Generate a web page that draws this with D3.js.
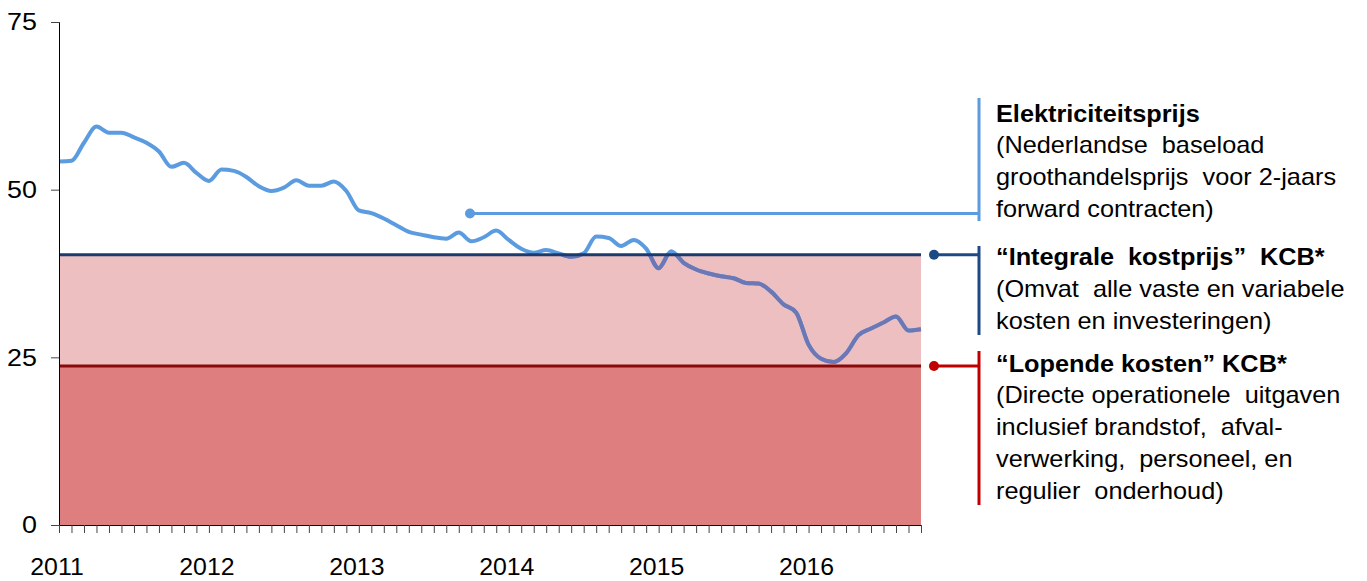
<!DOCTYPE html>
<html>
<head>
<meta charset="utf-8">
<script src="https://cdn.jsdelivr.net/npm/d3@7"></script>
<style>
  body { margin: 0; background: #fff; }
  svg { font-family: "Liberation Sans", Arial, sans-serif; }
</style>
</head>
<body>
<svg id="chart"></svg>
<script>
// monthly values, Jan 2011 .. Oct 2016 (EUR/MWh)
const startMonth = new Date(2011, 0, 1);
const endMonth = new Date(2016, 9, 1);
const price = [
  54.2, 54.3, 57.0, 59.4, 58.5, 58.5, 57.8, 57.0, 55.7, 53.4, 54.0, 52.5,
  51.3, 53.0, 52.8, 51.9, 50.5, 49.8, 50.3, 51.4, 50.6, 50.6, 51.2, 49.8,
  46.9, 46.5, 45.7, 44.7, 43.7, 43.3, 42.9, 42.7, 43.6, 42.3, 42.9, 43.9,
  42.5, 41.2, 40.6, 41.0, 40.5, 40.0, 40.5, 43.0, 42.8, 41.6, 42.5, 41.2,
  38.3, 40.8, 39.1, 38.1, 37.5, 37.1, 36.8, 36.1, 36.0, 34.8, 32.9, 31.7,
  26.9, 24.8, 24.3, 25.6, 28.3, 29.3, 30.2, 31.1, 29.0, 29.2
];
const integraleKostprijs = 40.3;
const lopendeKosten = 23.7;
const yTicks = [0, 25, 50, 75];
const yearLabels = ["2011", "2012", "2013", "2014", "2015", "2016"];
const legendElek = ["Elektriciteitsprijs", "(Nederlandse  baseload", "groothandelsprijs  voor 2-jaars", "forward contracten)"];
const legendIntegraal = ["\u201CIntegrale  kostprijs\u201D  KCB*", "(Omvat  alle vaste en variabele", "kosten en investeringen)"];
const legendLopend = ["\u201CLopende kosten\u201D KCB*", "(Directe operationele  uitgaven", "inclusief brandstof,  afval-", "verwerking,  personeel, en", "regulier  onderhoud)"];

const W = 1367, H = 581;
const margin = {top: 22, right: 446, bottom: 56, left: 59},
    width = W - margin.left - margin.right,
    height = H - margin.top - margin.bottom;

const months = d3.timeMonth.range(startMonth, d3.timeMonth.offset(endMonth, 1));
const data = months.map((d, i) => ({date: d, idx: i, value: price[i]}));

const svg = d3.select("#chart")
    .attr("width", W)
    .attr("height", H);

const g = svg.append("g")
    .attr("transform", `translate(${margin.left},${margin.top})`);

// uniform category spacing like the original
const x = d3.scaleLinear()
    .domain([0, months.length - 1])
    .range([0, width]);

const y = d3.scaleLinear()
    .domain([0, 75])
    .range([height, 0]);

// cost bands
g.append("rect")
    .attr("x", 0).attr("width", width)
    .attr("y", y(integraleKostprijs))
    .attr("height", y(lopendeKosten) - y(integraleKostprijs))
    .attr("fill", "#edbfc0");

g.append("rect")
    .attr("x", 0).attr("width", width)
    .attr("y", y(lopendeKosten))
    .attr("height", y(0) - y(lopendeKosten))
    .attr("fill", "#de7e7e");

// price line, muted where it runs inside the band
const line = d3.line()
    .x(d => x(d.idx))
    .y(d => y(d.value))
    .curve(d3.curveMonotoneX);

svg.append("defs").append("clipPath")
    .attr("id", "band")
  .append("rect")
    .attr("x", 0).attr("width", width)
    .attr("y", y(integraleKostprijs))
    .attr("height", y(0) - y(integraleKostprijs));

g.append("path")
    .datum(data)
    .attr("fill", "none")
    .attr("stroke", "#5b9bdf")
    .attr("stroke-width", 4)
    .attr("stroke-linejoin", "round")
    .attr("d", line);

g.append("path")
    .datum(data)
    .attr("fill", "none")
    .attr("stroke", "#6c77b6")
    .attr("stroke-width", 4)
    .attr("stroke-linejoin", "round")
    .attr("clip-path", "url(#band)")
    .attr("d", line);

// cost lines
g.append("line")
    .attr("x1", 0).attr("x2", width)
    .attr("y1", y(integraleKostprijs)).attr("y2", y(integraleKostprijs))
    .attr("stroke", "#1b3a6e")
    .attr("stroke-width", 3);

g.append("line")
    .attr("x1", 0).attr("x2", width)
    .attr("y1", y(lopendeKosten)).attr("y2", y(lopendeKosten))
    .attr("stroke", "#8a0a0a")
    .attr("stroke-width", 3);

// axes
const yAxis = g.append("g")
    .call(d3.axisLeft(y).tickValues(yTicks).tickSize(8).tickPadding(13));
yAxis.select(".domain").attr("stroke", "#000");
yAxis.selectAll(".tick line").attr("stroke", "#444");
yAxis.selectAll("text")
    .attr("x", 0)
    .attr("transform", "translate(-22,0) scale(1.12,1)")
    .attr("font-size", 24)
    .attr("font-family", "Liberation Sans, Arial, sans-serif")
    .attr("fill", "#000");

const xAxis = g.append("g")
    .attr("transform", `translate(0,${height})`)
    .call(d3.axisBottom(x).tickValues(d3.range(months.length)).tickSize(8).tickFormat(""));
xAxis.select(".domain").attr("stroke", "#000");
xAxis.selectAll(".tick line").attr("stroke", "#444");

g.append("g")
    .selectAll("text")
    .data(yearLabels)
    .enter()
    .append("text")
    .attr("transform", (d, i) => `translate(${x(i * 12) - 2},${height + 50}) scale(1.08,1)`)
    .attr("text-anchor", "middle")
    .attr("font-size", 23)
    .attr("fill", "#000")
    .text(d => d);

// legend brackets
const bx = 979, tx = 996;

function bracket(color, y1, y2, yh, xStart) {
    svg.append("line")
        .attr("x1", bx).attr("x2", bx).attr("y1", y1).attr("y2", y2)
        .attr("stroke", color).attr("stroke-width", 3);
    svg.append("line")
        .attr("x1", xStart).attr("x2", bx).attr("y1", yh).attr("y2", yh)
        .attr("stroke", color).attr("stroke-width", 3);
    svg.append("circle")
        .attr("cx", xStart).attr("cy", yh).attr("r", 5)
        .attr("fill", color);
}

bracket("#5b9bdf", 98, 221, 213.5, 470);
bracket("#1b4a85", 246, 335, margin.top + y(integraleKostprijs), 934);
bracket("#c00000", 351, 505, margin.top + y(lopendeKosten), 934);

function legendBlock(lines, y0) {
    const t = svg.append("text")
        .attr("transform", `translate(${tx},${y0}) scale(1.1,1)`)
        .attr("font-size", 23)
        .attr("fill", "#000")
        .attr("xml:space", "preserve")
        .style("white-space", "pre");
    lines.forEach((s, i) => {
        t.append("tspan")
            .attr("x", 0)
            .attr("y", i * 31.8)
            .attr("font-weight", i === 0 ? "bold" : "normal")
            .text(s);
    });
}

legendBlock(legendElek, 121.5);
legendBlock(legendIntegraal, 265);
legendBlock(legendLopend, 371.5);
</script>
</body>
</html>
